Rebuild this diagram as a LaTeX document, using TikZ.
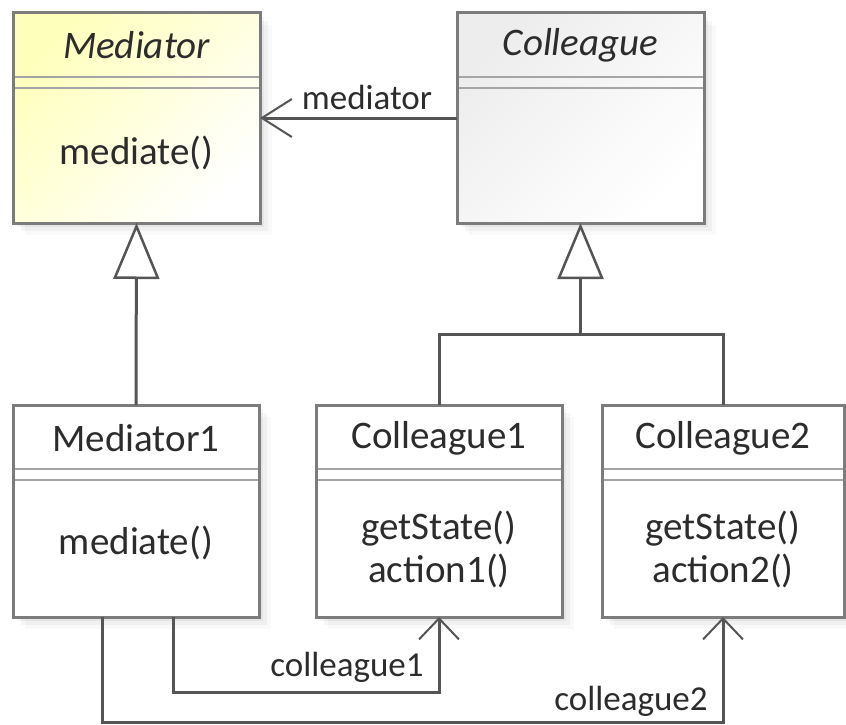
\documentclass[tikz,border=0pt]{standalone}
\usepackage{fontspec}
\setmainfont{Carlito}
\usetikzlibrary{arrows.meta,calc,shadows}
\definecolor{bord}{HTML}{7C7C7C}
\definecolor{conn}{HTML}{555555}
\definecolor{sepc}{HTML}{A5A5A5}
\definecolor{yel}{HTML}{FFFFBC}
\definecolor{gry}{HTML}{EDEDED}
\definecolor{txt}{HTML}{2C2C2C}
\begin{document}
\begin{tikzpicture}[x=1pt,y=-1pt,
  cls/.style={draw=bord, line width=3pt, inner sep=0pt, outer sep=0pt, anchor=north west,
    general shadow={fill=black, opacity=0.045, shadow xshift=4pt, shadow yshift=-4pt},
    general shadow={fill=black, opacity=0.035, shadow xshift=8pt, shadow yshift=-8pt},
    general shadow={fill=black, opacity=0.025, shadow xshift=12pt, shadow yshift=-12pt}},
  bigbox/.style={cls, minimum width=247pt, minimum height=210pt},
  smallbox/.style={cls, minimum width=246pt, minimum height=212pt, fill=white},
  sep/.style={draw=sepc, line width=2.5pt},
  ttl/.style={text=txt, font=\fontsize{39}{43}\selectfont, inner sep=0pt},
  lbl/.style={text=txt, font=\fontsize{35}{40}\selectfont, inner sep=0pt},
  conn/.style={draw=conn, line width=3pt},
  gen/.style={conn, -{Triangle[length=56pt, width=46pt, fill=white, line width=2.5pt]}},
  barbA/.style={conn, -{Straight Barb[length=30pt, width=38pt, line width=2pt]}},
  barbB/.style={conn, -{Straight Barb[length=21pt, width=40pt, line width=2pt]}}]
\useasboundingbox (0,0) rectangle (846,725);
\fill[white] (0,0) rectangle (846,725);

% top classes
\node[bigbox, left color=yel, right color=white, shading angle=45] (med) at (13,13) {};
\node[bigbox, left color=gry, right color=white, shading angle=45] (col) at (457,13) {};
\foreach \b in {med,col}{
  \draw[sep] ($(\b.north west)+(1.5,64)$) -- ($(\b.north east)+(-1.5,64)$);
  \draw[sep] ($(\b.north west)+(1.5,75)$) -- ($(\b.north east)+(-1.5,75)$);
}
\node[ttl, font=\fontsize{39}{43}\selectfont\itshape] (medT) at ($(med.north)+(0,32)$) {Mediator};
\node[ttl] (medO) at ($(med.north)+(0,140)$) {mediate()};
\node[ttl, font=\fontsize{39}{43}\selectfont\itshape] (colT) at ($(col.north)+(0,32)$) {Colleague};

% bottom classes
\node[smallbox] (m1) at (13,405) {};
\node[smallbox] (c1) at (316,405) {};
\node[smallbox, minimum width=242pt] (c2) at (602,405) {};
\foreach \b in {m1,c1,c2}{
  \draw[sep] ($(\b.north west)+(1.5,64)$) -- ($(\b.north east)+(-1.5,64)$);
  \draw[sep] ($(\b.north west)+(1.5,75)$) -- ($(\b.north east)+(-1.5,75)$);
}
\node[ttl] (m1T) at ($(m1.north)+(0,33)$) {Mediator1};
\node[ttl] (m1O) at ($(m1.north)+(0,138)$) {mediate()};
\node[ttl] (c1T) at ($(c1.north)+(0,33)$) {Colleague1};
\node[ttl, align=center] (c1O) at ($(c1.north)+(0,144)$) {getState()\\action1()};
\node[ttl] (c2T) at ($(c2.north)+(0,33)$) {Colleague2};
\node[ttl, align=center] (c2O) at ($(c2.north)+(0,144)$) {getState()\\action2()};

% association Colleague -> Mediator
\draw[barbA] (col.west) -- (med.east);
\node[lbl] (lmed) at (367,97) {mediator};

% generalizations
\draw[gen] (m1.north) -- (med.south);
\coordinate (jn) at ($(col.south)+(0,111)$);
\draw[conn] (c1.north) |- (jn) -| (c2.north);
\draw[gen] (jn) -- (col.south);

% associations Mediator1 -> Colleague1/2
\coordinate (a1) at ($(m1.south west)+(160,0)$);
\coordinate (a2) at ($(m1.south west)+(89,0)$);
\draw[barbB] (a1) |- ($(c1.south)+(0,75)$) -- (c1.south);
\draw[barbB] (a2) |- ($(c2.south)+(0,105)$) -- (c2.south);
\node[lbl] (lc1) at (347,667) {colleague1};
\node[lbl] (lc2) at (631,701) {colleague2};
\end{tikzpicture}
\end{document}
